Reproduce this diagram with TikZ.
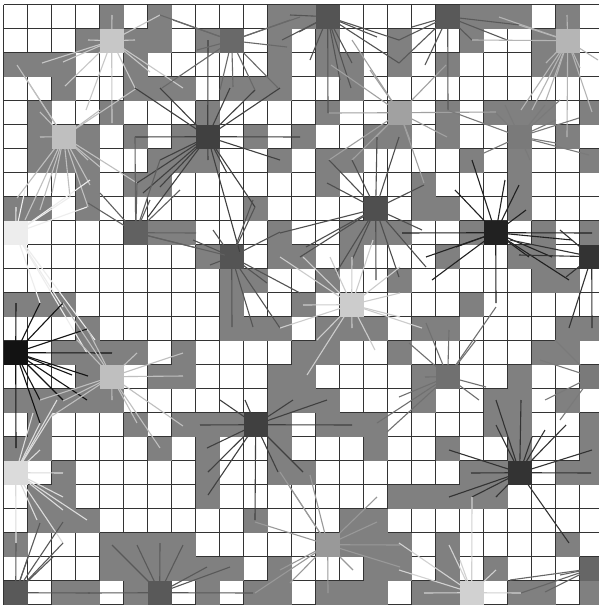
\documentclass[tikz,border=0pt]{standalone}
\newcommand\hubsq[4]{%
  \coordinate (#1) at ({15.7+24*#2},{16.7+24*#3});
  \fill[#4] ({3.7+24*#2},{4.7+24*#3}) rectangle ++(24,24);}
\newcommand\hubrays[3]{%
  \foreach \ex/\ey in {#3} {\draw[ray,draw=#2] (#1) -- (\ex,\ey);}}
\begin{document}
\begin{tikzpicture}[x=1pt,y=-1pt,
  gridline/.style={draw=black!80,line width=0.8pt},
  cellfill/.style={fill=black!50},
  ray/.style={line width=1.1pt}]
\useasboundingbox (0,0) rectangle (599,606);
\begin{scope}
\clip (0,0) rectangle (599,606);
\fill[white] (0,0) rectangle (599,606);
\foreach \i in {0,...,25} {
  \draw[gridline] ({3.7+24*\i},4.7) -- ({3.7+24*\i},604.7);
  \draw[gridline] (3.7,{4.7+24*\i}) -- (603.7,{4.7+24*\i});
}
\foreach \r/\cs in {
0/{4,6,11,12,19,20,21,23},
1/{3,5,6,8,11,13,16,19,22},
2/{0,1,2,5,11,13,14,16,18,22,23},
3/{2,5,6,7,9,10,11,14},
4/{1,4,8,13,18,20,21,22,24},
5/{1,3,5,7,10,12,15,16,18,23},
6/{1,2,3,6,7,8,11,13,14,19,21,24},
7/{3,5,6,13,17,21},
8/{0,1,3,10,17,18,21},
9/{6,7,11,14,15,16,19,22,24},
10/{8,11,12,14,18,21,22},
11/{9,10,13,16,22,23},
12/{0,1,2,9,12,19},
13/{3,9,10,11,13,14,15,17,18,23,24},
14/{2,3,4,5,7,12,13,16,22,23},
15/{3,6,7,11,12,17,21,24},
16/{0,1,2,3,4,11,12,13,17,20,21,23},
17/{1,5,7,8,9,11,13,14,15,20,21,24},
18/{0,1,6,8,11,15,18,21,24},
19/{2,8,11,12,19,20,23,24},
20/{1,2,8,16,17,18,19,20},
21/{1,2,3,10,14,15},
22/{0,4,5,6,7,14,15,16,18,23},
23/{4,5,6,7,8,9,11,15,16,18,20},
24/{2,3,5,8,10,11,13,14,15,17,18,21,22,24}} {
  \foreach \c in \cs {\fill[cellfill] ({3.7+24*\c},{4.7+24*\r}) rectangle ++(24,24);}
}
% hub squares
\hubsq{hA}{4}{1}{black!22}
\hubsq{hB}{2}{5}{black!25}
\hubsq{hC}{8}{5}{black!75}
\hubsq{hD}{9}{1}{black!59}
\hubsq{hE}{13}{0}{black!67}
\hubsq{hF}{18}{0}{black!65}
\hubsq{hG}{23}{1}{black!29}
\hubsq{hH}{16}{4}{black!37}
\hubsq{hI}{21}{5}{black!52}
\hubsq{hJ}{15}{8}{black!69}
\hubsq{hK}{20}{9}{black!87}
\hubsq{hL}{24}{10}{black!80}
\hubsq{hM}{5}{9}{black!62}
\hubsq{hN}{9}{10}{black!67}
\hubsq{hO}{0}{9}{black!7}
\hubsq{hP}{14}{12}{black!20}
\hubsq{hQ}{0}{14}{black!93}
\hubsq{hR}{4}{15}{black!25}
\hubsq{hS}{10}{17}{black!75}
\hubsq{hT}{18}{15}{black!56}
\hubsq{hU}{0}{19}{black!14}
\hubsq{hV}{21}{19}{black!80}
\hubsq{hW}{13}{22}{black!40}
\hubsq{hX}{0}{24}{black!65}
\hubsq{hY}{6}{24}{black!65}
\hubsq{hZ}{19}{24}{black!18}
\hubsq{hAA}{24}{23}{black!60}
\hubsq{hAB}{24}{15}{black!52}
% rays
\hubrays{hA}{black!22}{160/15,88/40,135/40,112/15,112/123,42/63,63/62,65/86,135/88,183/88,150/72,86/110}
\hubrays{hB}{black!25}{17/65,25/77,40/112,40/137,100/110,137/88,88/160,137/183,100/167,17/198,90/185,88/207,70/197,52/193,40/210,25/220}
\hubrays{hC}{black!75}{135/88,160/88,230/88,255/90,280/88,135/137,300/137,208/40,208/160,280/160,160/160,137/183,143/193,160/187,148/217,255/207,240/253,227/173}
\hubrays{hD}{black!59}{160/15,173/20,197/50,162/88,220/90,233/87,255/90,278/88,287/47,290/20,300/17}
\hubrays{hE}{black!67}{299/32,282/40,351/88,352/63,399/40,399/63,328/113,377/37,340/80,310/60,290/15}
\hubrays{hF}{black!65}{399/40,399/63,412/27,448/110,472/40,507/40,520/25,425/65}
\hubrays{hG}{black!29}{499/17,519/25,472/40,567/15,567/137,592/112,546/63,556/77,521/110,532/110,546/100,580/68,598/60}
\hubrays{hH}{black!37}{329/113,331/65,352/40,446/65,447/137,424/183,329/160,352/160,496/112,376/137,370/70,410/140}
\hubrays{hI}{black!52}{447/110,496/113,484/153,556/120,579/118,556/143,589/155,545/105,505/105,530/160,560/100}
\hubrays{hJ}{black!69}{329/160,352/160,377/137,399/137,327/183,306/247,336/273,352/260,376/280,399/277,426/267,422/230,424/185,280/233,300/257}
\hubrays{hK}{black!87}{402/233,592/233,472/160,519/185,526/210,552/257,426/257,456/247,572/240,569/280,496/303,432/280,455/190,505/180,529/257}
\hubrays{hL}{black!80}{569/328,592/328,519/255,566/277,510/240,560/230}
\hubrays{hM}{black!62}{135/137,160/160,137/183,196/233,197/248,225/255,100/193,88/203,150/200,180/190}
\hubrays{hN}{black!67}{255/207,280/232,253/200,213/230,193/240,232/327,253/327,280/328,267/283,300/293,210/265}
\hubrays{hO}{black!7}{16/207,25/190,70/197,87/207,90/180,40/303,63/307,87/353,95/340}
\hubrays{hP}{black!20}{280/257,303/257,352/257,373/240,400/267,400/293,303/305,280/328,400/317,375/350,352/328,317/340,307/375,330/257,422/328}
\hubrays{hQ}{black!93}{16/303,40/303,63/303,87/329,112/353,88/376,63/400,87/400,40/400,40/423,16/448,72/375}
\hubrays{hR}{black!25}{137/353,183/353,183/376,77/340,63/303,40/400,63/401,52/416,160/448,137/423,112/400,183/426,88/330}
\hubrays{hS}{black!75}{200/425,352/425,207/448,208/472,208/495,255/520,278/472,303/472,293/400,327/400,220/400,245/400}
\hubrays{hT}{black!56}{409/343,449/330,476/340,496/307,399/397,479/400,486/387,425/377,377/423,387/432,426/323}
\hubrays{hU}{black!14}{33/413,40/423,53/413,57/400,40/450,63/473,63/497,63/510,87/520,37/520,63/543,16/543}
\hubrays{hV}{black!80}{521/400,496/400,496/425,532/437,566/425,592/450,591/473,471/473,449/450,449/497,472/497,496/497,569/543,545/430}
\hubrays{hW}{black!40}{255/522,280/472,377/497,377/522,400/545,400/567,353/570,328/593,280/570,290/583,255/593,290/487,310/475}
\hubrays{hX}{black!65}{16/543,28/557,40/523,63/522,53/557,63/543,90/593}
\hubrays{hY}{black!65}{112/545,137/545,160/543,183/545,207/567,230/567,88/593,253/593}
\hubrays{hZ}{black!18}{472/497,449/545,496/570,424/593,521/593,399/570,399/543,460/560}
\hubrays{hAA}{black!60}{521/593,545/592,560/575,510/580}
\hubrays{hAB}{black!52}{555/340,540/360,545/400,560/420}
\end{scope}
\end{tikzpicture}
\end{document}
